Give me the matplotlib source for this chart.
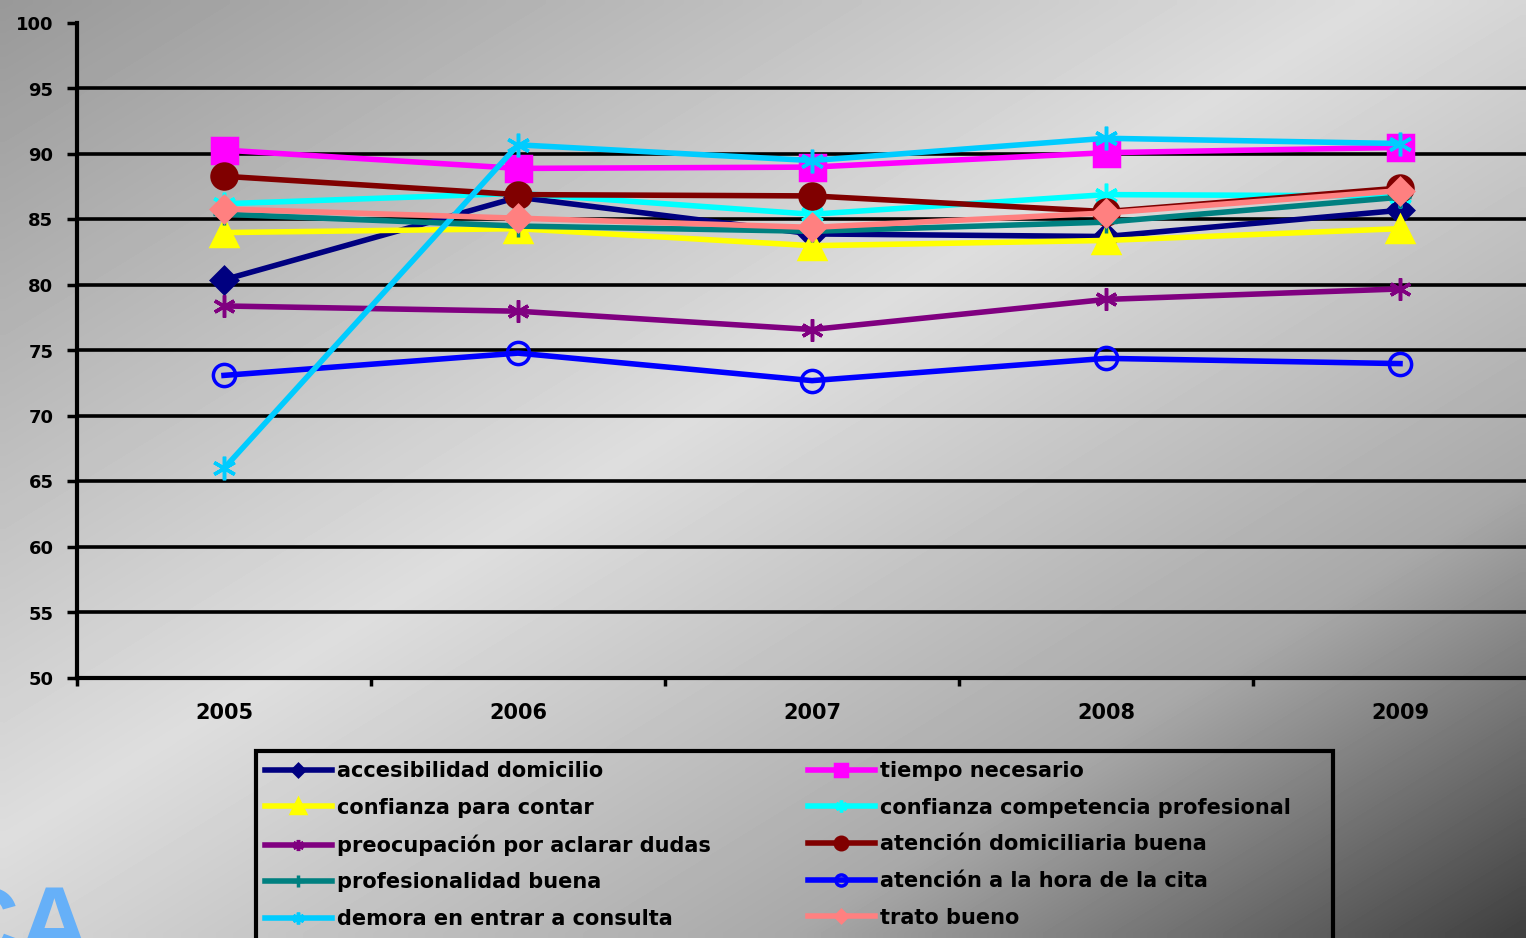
import numpy as np
import matplotlib
matplotlib.use("Agg")
import matplotlib.pyplot as plt
from matplotlib.patches import Rectangle

# ---------------- data ----------------
years = ['2005', '2006', '2007', '2008', '2009']
y_ticks = [50, 55, 60, 65, 70, 75, 80, 85, 90, 95, 100]

accesibilidad = [80.4, 86.7, 83.9, 83.7, 85.7]
tiempo = [90.3, 88.9, 89.0, 90.1, 90.5]
confianza_contar = [84.0, 84.3, 83.0, 83.4, 84.3]
confianza_comp = [86.2, 87.0, 85.4, 86.9, 86.8]
preocupacion = [78.4, 78.0, 76.6, 78.9, 79.7]
atencion_dom = [88.3, 86.9, 86.8, 85.6, 87.4]
profesionalidad = [85.4, 84.5, 84.1, 84.8, 86.7]
atencion_hora = [73.1, 74.8, 72.7, 74.4, 74.0]
demora = [66.0, 90.7, 89.5, 91.2, 90.8]
trato = [85.8, 85.1, 84.4, 85.5, 87.2]

labels = ['accesibilidad domicilio', 'tiempo necesario', 'confianza para contar',
          'confianza competencia profesional', 'preocupación por aclarar dudas',
          'atención domiciliaria buena', 'profesionalidad buena',
          'atención a la hora de la cita', 'demora en entrar a consulta', 'trato bueno']
series = [accesibilidad, tiempo, confianza_contar, confianza_comp, preocupacion,
          atencion_dom, profesionalidad, atencion_hora, demora, trato]

# ---------------- styles ----------------
asterisk = (6, 2, 0)
colors = ['#000080', '#FF00FF', '#FFFF00', '#00FFFF', '#800080',
          '#800000', '#008080', '#0000FF', '#00CCFF', '#FF8080']
markers = ['D', 's', '^', asterisk, asterisk, 'o', '+', 'o', asterisk, 'D']
msizes = [13, 18, 19, 17, 16, 18, 16, 16, 17, 13]
filled = [True, True, True, True, True, True, True, False, True, True]

W, H = 1526, 938
def fx(px):
    return px / W
def fy(py):
    return 1 - py / H

fig = plt.figure(figsize=(W / 100, H / 100), dpi=100)

# background gradient
gh, gw = 94, 153
yy, xx = np.mgrid[0:gh, 0:gw]
t = (xx / (gw - 1) + yy / (gh - 1)) / 2.0
grad = np.interp(t, [0, 0.45, 0.76, 1.0], [0.60, 0.87, 0.66, 0.25])
bg = fig.add_axes([0, 0, 1, 1], zorder=-10)
bg.imshow(grad, extent=[0, 1, 0, 1], aspect='auto', cmap='gray', vmin=0, vmax=1,
          interpolation='bilinear')
bg.axis('off')

# main axes (extends past right figure edge like the reference)
ax = fig.add_axes([fx(77), fy(678), (1547 - 77) / W, (678 - 23) / H])
ax.patch.set_visible(False)
ax.set_xlim(-0.5, 4.5)
ax.set_ylim(50, 100)

for v in y_ticks[1:-1]:
    ax.axhline(v, color='black', lw=2.6, zorder=1)

x = np.arange(len(years))
handles = []
for vals, lab, c, m, ms, f in zip(series, labels, colors, markers, msizes, filled):
    h, = ax.plot(x, vals, color=c, lw=4, marker=m, markersize=ms,
                 markeredgecolor=c, markerfacecolor=(c if f else 'none'),
                 markeredgewidth=2.5, zorder=3, clip_on=False, label=lab)
    handles.append(h)

for s in ['top', 'right']:
    ax.spines[s].set_visible(False)
for s in ['left', 'bottom']:
    ax.spines[s].set_linewidth(3)
    ax.spines[s].set_color('black')

ax.set_yticks(y_ticks)
ax.set_yticklabels([str(v) for v in y_ticks], fontsize=13, fontweight='bold')
ax.tick_params(axis='y', length=7, width=2.5, pad=10, direction='out')

ax.set_xticks(x)
ax.set_xticklabels(years, fontsize=15, fontweight='bold')
ax.set_xticks(np.arange(-0.5, len(years), 1.0), minor=True)
ax.tick_params(axis='x', which='major', length=0, pad=18)
ax.tick_params(axis='x', which='minor', length=6, width=2.5, direction='out')

# legend (two columns, column-major like the reference)
col1 = [0, 2, 4, 6, 8]
col2 = [1, 3, 5, 7, 9]
common = dict(loc='upper left', frameon=False, borderpad=0, borderaxespad=0,
              handlelength=3.2, handletextpad=0.24, labelspacing=0.8,
              markerscale=0.5, prop={'weight': 'bold', 'size': 15})
fig.legend([handles[i] for i in col1], [labels[i] for i in col1],
           bbox_to_anchor=(fx(265), fy(761)), **common)
fig.legend([handles[i] for i in col2], [labels[i] for i in col2],
           bbox_to_anchor=(fx(808), fy(761)), **common)
fig.add_artist(Rectangle((fx(256), fy(965)), fx(1333) - fx(256), fy(751) - fy(965),
                         transform=fig.transFigure, fill=False, lw=3, ec='black'))

# partial watermark text at bottom-left (cut by the figure edge, as in the reference)
fig.text(fx(91), fy(957), 'CA', color='#66B0F8', fontsize=72, fontweight='bold',
         family='Liberation Sans', ha='right', va='baseline')

fig.savefig('out.png', dpi=100)
